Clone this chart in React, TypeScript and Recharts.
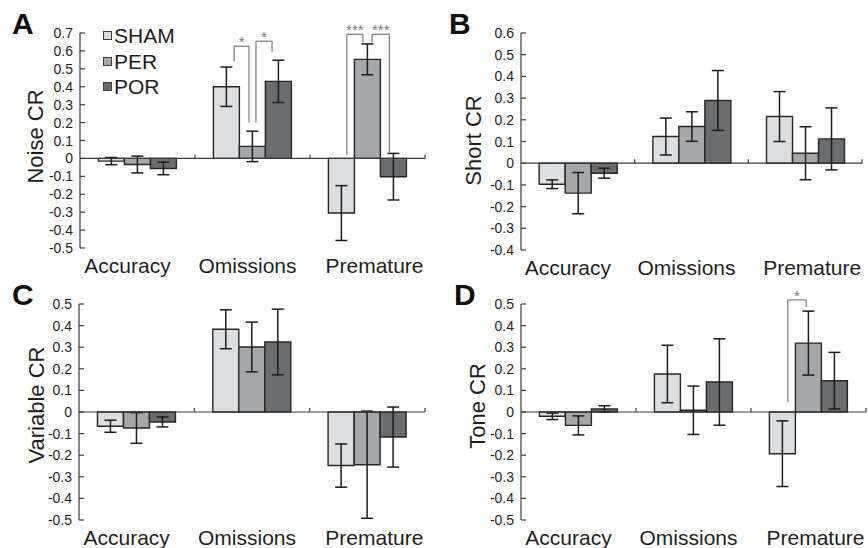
import { BarChart, Bar, XAxis, YAxis, ErrorBar, ReferenceLine, ReferenceDot, Legend } from 'recharts'

const FONT = '"Liberation Sans", Arial, Helvetica, sans-serif'
const INK = '#1e1e1e'
const AXIS = '#3c3c3c'
const BRACKET = '#7a7a7a'

const CATEGORIES = ['Accuracy', 'Omissions', 'Premature']
const GROUPS = ['SHAM', 'PER', 'POR']
const FILLS = ['#dddee0', '#a6a7a9', '#6c6d6f']

// A - Noise CR
const noiseSham = [-0.015, 0.4, -0.305]
const noiseShamSem = [0.02, 0.11, 0.153]
const noisePer = [-0.034, 0.067, 0.553]
const noisePerSem = [0.047, 0.085, 0.086]
const noisePor = [-0.056, 0.43, -0.102]
const noisePorSem = [0.035, 0.118, 0.13]
const noiseTicks = [-0.5, -0.4, -0.3, -0.2, -0.1, 0, 0.1, 0.2, 0.3, 0.4, 0.5, 0.6, 0.7]

// B - Short CR
const shortSham = [-0.097, 0.123, 0.215]
const shortShamSem = [0.02, 0.085, 0.115]
const shortPer = [-0.138, 0.169, 0.046]
const shortPerSem = [0.095, 0.068, 0.122]
const shortPor = [-0.046, 0.289, 0.112]
const shortPorSem = [0.023, 0.138, 0.143]
const shortTicks = [-0.4, -0.3, -0.2, -0.1, 0, 0.1, 0.2, 0.3, 0.4, 0.5, 0.6]

// C - Variable CR
const variableSham = [-0.066, 0.383, -0.248]
const variableShamSem = [0.028, 0.09, 0.1]
const variablePer = [-0.074, 0.301, -0.244]
const variablePerSem = [0.071, 0.115, 0.248]
const variablePor = [-0.046, 0.324, -0.116]
const variablePorSem = [0.023, 0.152, 0.139]

// D - Tone CR
const toneSham = [-0.02, 0.176, -0.193]
const toneShamSem = [0.015, 0.133, 0.152]
const tonePer = [-0.062, 0.008, 0.319]
const tonePerSem = [0.044, 0.112, 0.148]
const tonePor = [0.014, 0.139, 0.145]
const tonePorSem = [0.015, 0.2, 0.131]
const halfTicks = [-0.5, -0.4, -0.3, -0.2, -0.1, 0, 0.1, 0.2, 0.3, 0.4, 0.5]

// significance brackets, x in category units (0..3), heights in CR units
const noiseBrackets = [
  { x1: 1.34, x2: 1.47, top: 0.626, leftEnd: 0.542, rightEnd: 0.201, mark: '*' },
  { x1: 1.53, x2: 1.67, top: 0.654, leftEnd: 0.201, rightEnd: 0.592, mark: '*' },
  { x1: 2.32, x2: 2.46, top: 0.693, leftEnd: 0.022, rightEnd: 0.648, mark: '***' },
  { x1: 2.54, x2: 2.69, top: 0.693, leftEnd: 0.648, rightEnd: 0.034, mark: '***' },
]
const toneBrackets = [
  { x1: 2.32, x2: 2.48, top: 0.519, leftEnd: 0.046, rightEnd: 0.486, mark: '*' },
]

const buildRows = (means: number[][], sems: number[][]) =>
  CATEGORIES.map((name, i) => {
    const row: Record<string, any> = { name }
    GROUPS.forEach((g, k) => {
      row[g] = means[k][i]
      row[g + 'Sem'] = sems[k][i]
    })
    return row
  })

// centre of a category in category units, for the hidden linear axis
const slot = (row: any) => CATEGORIES.indexOf(row.name) + 0.5

const X_AXIS_H = 28
const Y_AXIS_W = 50
const LABEL_SHIFT = [-10, -5, 7]

const fmt = (v: number) => (v === 0 ? '0' : v.toFixed(1))

const CatTick = (props: any) => {
  const { x, y, payload, index } = props
  return (
    <text x={x + LABEL_SHIFT[index]} y={y + 25} textAnchor="middle" fontSize={21} fontFamily={FONT} fill={INK}>
      {payload.value}
    </text>
  )
}

const ValueTick = (props: any) => {
  const { x, y, payload } = props
  return (
    <g>
      <line x1={x} x2={x + 5} y1={y} y2={y} stroke={AXIS} strokeWidth={1.2} />
      <text x={x - 7} y={y + 5} textAnchor="end" fontSize={14} fontFamily={FONT} fill={INK}>
        {fmt(payload.value)}
      </text>
    </g>
  )
}

// legend keeps the series order SHAM, PER, POR
const LegendBox = () => (
  <div style={{ fontFamily: FONT, fontSize: 21, lineHeight: '25.5px', color: INK }}>
    {GROUPS.map((g, k) => (
      <div key={g} style={{ display: 'flex', alignItems: 'center' }}>
        <span
          style={{
            width: 9,
            height: 9,
            boxSizing: 'border-box',
            border: `1px solid ${AXIS}`,
            background: FILLS[k],
            marginRight: 2,
            display: 'inline-block',
          }}
        />
        {g}
      </div>
    ))}
  </div>
)

type Bracket = { x1: number; x2: number; top: number; leftEnd: number; rightEnd: number; mark: string }

const panels = [
  {
    letter: 'A', letterX: 12, letterY: 34,
    yLabel: 'Noise CR', yLabelGap: 37, yLabelShift: -4,
    rows: buildRows([noiseSham, noisePer, noisePor], [noiseShamSem, noisePerSem, noisePorSem]),
    ticks: noiseTicks, brackets: noiseBrackets as Bracket[], legend: true,
    box: { left: 0, top: 0, width: 434, height: 280 },
    margin: { top: 33, right: 9, bottom: 4, left: 30 },
  },
  {
    letter: 'B', letterX: 15, letterY: 34,
    yLabel: 'Short CR', yLabelGap: 40, yLabelShift: -1,
    rows: buildRows([shortSham, shortPer, shortPor], [shortShamSem, shortPerSem, shortPorSem]),
    ticks: shortTicks, brackets: [] as Bracket[], legend: false,
    box: { left: 434, top: 0, width: 434, height: 280 },
    margin: { top: 33, right: 6, bottom: 2, left: 37 },
  },
  {
    letter: 'C', letterX: 12, letterY: 25,
    yLabel: 'Variable CR', yLabelGap: 35, yLabelShift: -7,
    rows: buildRows([variableSham, variablePer, variablePor], [variableShamSem, variablePerSem, variablePorSem]),
    ticks: halfTicks, brackets: [] as Bracket[], legend: false,
    box: { left: 0, top: 280, width: 434, height: 268 },
    margin: { top: 24, right: 9, bottom: 0, left: 29 },
  },
  {
    letter: 'D', letterX: 20, letterY: 25,
    yLabel: 'Tone CR', yLabelGap: 36, yLabelShift: -6,
    rows: buildRows([toneSham, tonePer, tonePor], [toneShamSem, tonePerSem, tonePorSem]),
    ticks: halfTicks, brackets: toneBrackets as Bracket[], legend: false,
    box: { left: 434, top: 280, width: 434, height: 268 },
    margin: { top: 24, right: 2, bottom: 0, left: 37 },
  },
]

const Panel = ({ cfg }: { cfg: (typeof panels)[number] }) => {
  const { rows, ticks, brackets, margin, box } = cfg
  const lo = ticks[0]
  const hi = ticks[ticks.length - 1]
  const plotH = box.height - margin.top - margin.bottom - X_AXIS_H
  const tickLen = ((hi - lo) * 4) / plotH

  const renderYLabel = (p: any) => {
    const vb = p.viewBox
    const cx = vb.x + vb.width - cfg.yLabelGap
    const cy = vb.y + vb.height / 2 + cfg.yLabelShift
    return (
      <text x={cx} y={cy} transform={`rotate(-90 ${cx} ${cy})`} textAnchor="middle" fontSize={22} fontFamily={FONT} fill={INK}>
        {cfg.yLabel}
      </text>
    )
  }

  return (
    <div style={{ position: 'absolute', left: box.left, top: box.top, width: box.width, height: box.height }}>
      <BarChart
        width={box.width}
        height={box.height}
        data={rows}
        margin={margin}
        barCategoryGap="16%"
        barGap={0}
        style={{ fontFamily: FONT }}
      >
        <XAxis dataKey="name" height={X_AXIS_H} axisLine={false} tickLine={false} tickSize={0} tickMargin={0} interval={0} tick={<CatTick />} />
        {/* hidden linear axis over the same width, used to place brackets and separators */}
        <XAxis xAxisId="u" dataKey={slot} type="number" scale="linear" domain={[0, 3]} allowDataOverflow hide />
        <YAxis
          width={Y_AXIS_W}
          domain={[lo, hi]}
          ticks={ticks}
          allowDataOverflow
          interval={0}
          axisLine={{ stroke: AXIS, strokeWidth: 1.2 }}
          tickLine={false}
          tickSize={0}
          tickMargin={0}
          tick={<ValueTick />}
          label={{ content: renderYLabel }}
        />
        {GROUPS.map((g, k) => (
          <Bar key={g} dataKey={g} name={g} fill={FILLS[k]} stroke="#262626" strokeWidth={1.4} isAnimationActive={false}>
            <ErrorBar dataKey={`${g}Sem`} width={6} stroke="#1c1c1c" strokeWidth={1.5} isAnimationActive={false} />
          </Bar>
        ))}
        <ReferenceLine y={0} stroke={AXIS} strokeWidth={1.2} />
        {[1, 2, 3].map((b) => (
          <ReferenceLine key={'sep' + b} xAxisId="u" segment={[{ x: b, y: 0 }, { x: b, y: tickLen }]} stroke={AXIS} strokeWidth={1.2} ifOverflow="visible" />
        ))}
        {brackets.map((br, i) => [
          <ReferenceLine key={`l${i}`} xAxisId="u" ifOverflow="visible" stroke={BRACKET} strokeWidth={1.2}
            segment={[{ x: br.x1, y: br.leftEnd }, { x: br.x1, y: br.top }]} />,
          <ReferenceLine key={`t${i}`} xAxisId="u" ifOverflow="visible" stroke={BRACKET} strokeWidth={1.2}
            segment={[{ x: br.x1, y: br.top }, { x: br.x2, y: br.top }]} />,
          <ReferenceLine key={`r${i}`} xAxisId="u" ifOverflow="visible" stroke={BRACKET} strokeWidth={1.2}
            segment={[{ x: br.x2, y: br.top }, { x: br.x2, y: br.rightEnd }]} />,
          <ReferenceDot key={`s${i}`} xAxisId="u" ifOverflow="visible" x={(br.x1 + br.x2) / 2} y={br.top}
            shape={(p: any) => (
              <text x={p.cx} y={p.cy + 1} textAnchor="middle" fontSize={15} fontFamily={FONT} fill={BRACKET}>
                {br.mark}
              </text>
            )} />,
        ])}
        {cfg.legend && (
          <Legend
            layout="vertical"
            align="center"
            verticalAlign="middle"
            content={<LegendBox />}
            wrapperStyle={{ left: 103, top: 23, width: 'auto', height: 'auto' }}
          />
        )}
      </BarChart>
      <svg width={36} height={40} style={{ position: 'absolute', left: cfg.letterX - 2, top: cfg.letterY - 32, pointerEvents: 'none' }}>
        <text x={2} y={32} fontSize={30} fontWeight="bold" fontFamily={FONT} fill="#111">
          {cfg.letter}
        </text>
      </svg>
    </div>
  )
}

export default function App() {
  return (
    <div style={{ position: 'absolute', left: 0, top: 0, width: 868, height: 548, background: '#fff' }}>
      {panels.map((cfg) => (
        <Panel key={cfg.letter} cfg={cfg} />
      ))}
    </div>
  )
}
